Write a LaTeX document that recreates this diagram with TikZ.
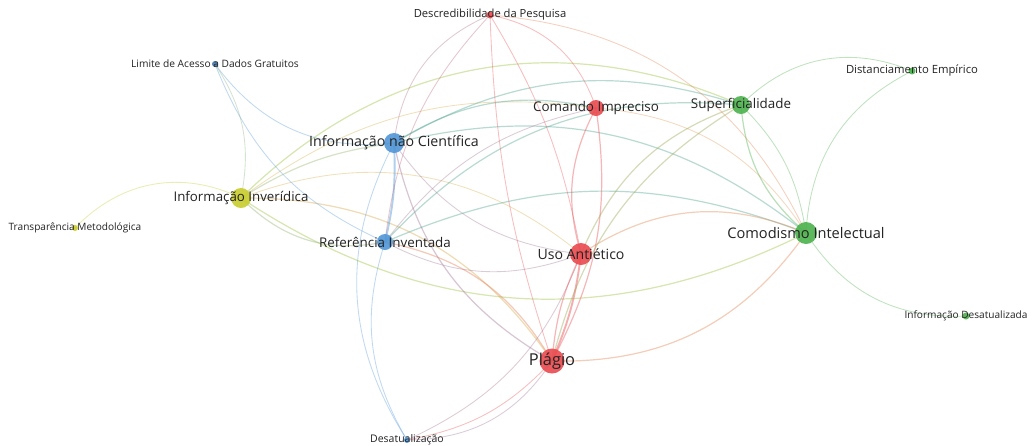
\documentclass[tikz,border=0pt]{standalone}
\usepackage{fontspec}
\setmainfont{Open Sans}
\definecolor{cred}{RGB}{234,74,78}
\definecolor{cgreen}{RGB}{76,178,76}
\definecolor{cblue}{RGB}{80,150,215}
\definecolor{cyel}{RGB}{200,205,45}
\definecolor{corange}{RGB}{225,150,80}
\definecolor{ctext}{RGB}{35,35,35}
\tikzset{
  edge/.style={line width=0.85pt, draw opacity=0.36},
  strong/.style={line width=1.9pt, draw opacity=0.45},
  mid/.style={line width=1.2pt, draw opacity=0.4},
  dot/.style={circle, inner sep=0pt, minimum size=2*#1pt, fill opacity=0.9},
  lab/.style={text=ctext, inner sep=0pt, font=\fontsize{#1}{#1}\selectfont},
}
\begin{document}
\begin{tikzpicture}[x=1pt,y=-1pt]
\useasboundingbox (0,0) rectangle (1032,445);
\fill[white] (0,0) rectangle (1032,445);

% node positions
\coordinate (D)   at (490,15);
\coordinate (L)   at (215,64);
\coordinate (INC) at (394,143);
\coordinate (CI)  at (596,108);
\coordinate (S)   at (741,105);
\coordinate (DE)  at (912,71);
\coordinate (II)  at (241,198);
\coordinate (T)   at (75,228);
\coordinate (RI)  at (385,242);
\coordinate (UA)  at (581,254);
\coordinate (CM)  at (806,233);
\coordinate (ID)  at (966,316);
\coordinate (P)   at (552,361);
\coordinate (Des) at (407,440);

% links
\begin{scope}
% yellow cluster
\draw[edge,draw=cyel]                (T) to[bend left=36] (II);
\draw[mid,draw=cyel!60!cgreen]       (II) to[bend left=34] (S);
\draw[mid,draw=cyel!60!cgreen]       (II) to[bend right=30] (CM);
\draw[mid,draw=cyel!60!cblue]        (II) to[bend left=12] (INC);
\draw[mid,draw=cyel!55!cblue]        (II) to[bend right=28] (RI);
\draw[edge,draw=cyel!40!corange]     (II) to[bend left=30] (UA);
\draw[mid,draw=cyel!30!corange]      (II) to[bend left=28] (P);
\draw[edge,draw=cyel!40!corange]     (II) to[bend left=22] (CI);
% blue cluster
\draw[edge,draw=cblue]               (L) to[bend right=30] (INC);
\draw[edge,draw=cblue]               (L) to[bend right=22] (RI);
\draw[edge,draw=cblue!50!cyel]       (L) to[bend left=22] (II);
\draw[strong,draw=cblue]             (INC) to[bend left=8] (RI);
\draw[edge,draw=cblue]               (Des) to[bend left=30] (INC);
\draw[edge,draw=cblue]               (Des) to[bend left=24] (RI);
\draw[edge,draw=cblue!50!cred]       (Des) to[bend right=28] (P);
\draw[edge,draw=cred]                (Des) to[bend right=18] (P);
\draw[edge,draw=cblue!45!cred]       (Des) to[bend right=22] (UA);
\draw[mid,draw=cblue!50!cgreen]      (INC) to[bend left=22] (CI);
\draw[mid,draw=cblue!50!cgreen]      (INC) to[bend left=24] (S);
\draw[mid,draw=cblue!50!cgreen]      (INC) to[bend left=26] (CM);
\draw[edge,draw=cblue!50!cred]       (INC) to[bend right=24] (UA);
\draw[mid,draw=cblue!50!cred]        (INC) to[bend right=24] (P);
\draw[edge,draw=cblue!50!cred]       (RI) to[bend left=20] (CI);
\draw[mid,draw=cblue!50!cgreen]      (RI) to[bend left=26] (S);
\draw[mid,draw=cblue!50!cgreen]      (RI) to[bend left=22] (CM);
\draw[edge,draw=cblue!50!cred]       (RI) to[bend right=24] (UA);
\draw[mid,draw=corange!60!cred]      (RI) to[bend left=24] (P);
% red cluster
\draw[edge,draw=cred]                (D) to[bend left=30] (CI);
\draw[edge,draw=cred]                (D) to[bend right=8] (P);
\draw[edge,draw=cred]                (D) to[bend left=10] (UA);
\draw[edge,draw=cred!60!cblue]       (D) to[bend right=30] (INC);
\draw[edge,draw=cred!70!cblue]       (D) to[bend right=18] (RI);
\draw[edge,draw=corange!70!cred]     (D) to[bend left=30] (CM);
\draw[mid,draw=cred]                 (CI) to[bend right=22] (UA);
\draw[mid,draw=cred]                 (CI) to[bend left=18] (P);
\draw[edge,draw=corange]             (CI) to[bend left=26] (CM);
\draw[strong,draw=cred]              (UA) to[bend left=8] (P);
\draw[mid,draw=cred]                 (UA) to[bend right=10] (P);
\draw[mid,draw=corange!50!cgreen]    (UA) to[bend left=24] (S);
\draw[mid,draw=corange!80!cred]      (UA) to[bend left=28] (CM);
\draw[mid,draw=corange!50!cgreen]    (P) to[bend left=22] (S);
\draw[mid,draw=corange!75!cred]      (P) to[bend right=28] (CM);
% green cluster
\draw[mid,draw=cgreen]               (S) to[bend right=22] (CM);
\draw[edge,draw=cgreen]              (S) to[bend left=18] (CM);
\draw[edge,draw=cgreen]              (S) to[bend left=34] (DE);
\draw[edge,draw=cgreen]              (DE) to[bend right=30] (CM);
\draw[edge,draw=cgreen]              (CM) to[bend right=30] (ID);
\end{scope}

% circles
\node[dot=3.5, fill=cred]   (nD)   at (D)   {};
\node[dot=3,   fill=cblue!80!black] (nL) at (L) {};
\node[dot=10,  fill=cblue]  (nINC) at (INC) {};
\node[dot=8,   fill=cred]   (nCI)  at (CI)  {};
\node[dot=9,   fill=cgreen] (nS)   at (S)   {};
\node[dot=3.5, fill=cgreen] (nDE)  at (DE)  {};
\node[dot=10,  fill=cyel]   (nII)  at (II)  {};
\node[dot=3,   fill=cyel]   (nT)   at (T)   {};
\node[dot=8,   fill=cblue]  (nRI)  at (RI)  {};
\node[dot=11,  fill=cred]   (nUA)  at (UA)  {};
\node[dot=11,  fill=cgreen] (nCM)  at (CM)  {};
\node[dot=3.5, fill=cgreen] (nID)  at (ID)  {};
\node[dot=12.5,fill=cred]   (nP)   at (P)   {};
\node[dot=3,   fill=cblue]  (nDes) at (Des) {};

% labels, centred on their circles
\node[lab=11.2] (tD)   at (D)   {Descredibilidade da Pesquisa};
\node[lab=10.2] (tL)   at (L)   {Limite de Acesso a Dados Gratuitos};
\node[lab=14.2] (tINC) at (INC) {Informação não Científica};
\node[lab=13.4] (tCI)  at (CI)  {Comando Impreciso};
\node[lab=13.4] (tS)   at (S)   {Superficialidade};
\node[lab=11.3] (tDE)  at (DE)  {Distanciamento Empírico};
\node[lab=13.3] (tII)  at (II)  {Informação Inverídica};
\node[lab=10.1] (tT)   at (T)   {Transparência Metodológica};
\node[lab=13.4] (tRI)  at (RI)  {Referência Inventada};
\node[lab=14.1] (tUA)  at (UA)  {Uso Antiético};
\node[lab=14.6] (tCM)  at (CM)  {Comodismo Intelectual};
\node[lab=10.1] (tID)  at (ID)  {Informação Desatualizada};
\node[lab=16.4] (tP)   at (P)   {Plágio};
\node[lab=10.5] (tDes) at (Des) {Desatualização};
\end{tikzpicture}
\end{document}
